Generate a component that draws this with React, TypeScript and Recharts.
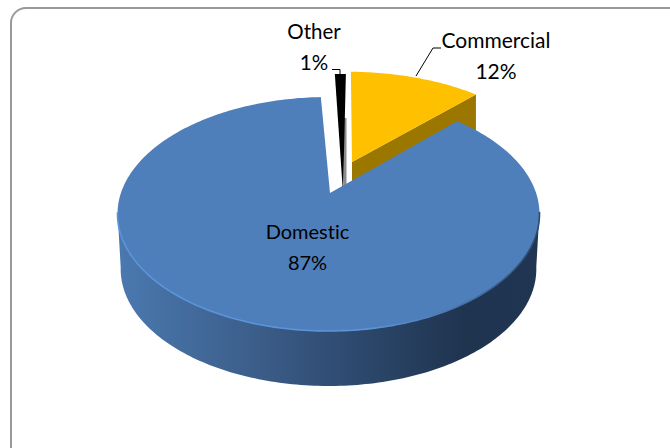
import { Pie, PieChart } from "recharts"

const names = ["Other", "Commercial", "Domestic"]
const shares = [1, 12, 87]
const sliceColors = ["#000000", "#FFC000", "#4F7FBB"]
const wallColors = ["#8c8c8c", "#9C7700", "url(#domesticWall)"]

const data = names.map((name, i) => ({ name, value: shares[i], color: sliceColors[i], wall: wallColors[i] }))

// exploded slices sit apart from the pie and get a small vertical stretch
const explode: Record<string, { dx: number; dy: number; sy: number; tipDx: number }> = {
  Other: { dx: 14, dy: 0, sy: 1.24, tipDx: 0.5 },
  Commercial: { dx: 19, dy: -31, sy: 0.94, tipDx: 4.5 },
  Domestic: { dx: 0, dy: 0, sy: 1, tipDx: 1.5 },
}

const labelSpots: Record<string, { x: number; y: number; size: number }> = {
  Other: { x: 314, y: 39, size: 20.5 },
  Commercial: { x: 496, y: 48, size: 21 },
  Domestic: { x: 307.5, y: 239, size: 20 },
}

const PITCH = 117 / 211 // flattening of the pie disc
const TILT = 0.18 // perspective shift of the disc centre towards the back
const DEPTH = 55
const RAD = Math.PI / 180

// circle angle -> point on the tilted disc
function project(cx: number, cy: number, r: number, deg: number) {
  const u = Math.cos(deg * RAD)
  const v = Math.sin(deg * RAD)
  const k = 1 + TILT * v
  return {
    x: cx + (r * u * Math.sqrt(1 - TILT * TILT)) / k,
    y: cy - r * PITCH * ((v + TILT) / k),
    back: (v + TILT) / k,
  }
}

function toPath(pts: { x: number; y: number }[]) {
  return pts.map((p, i) => `${i ? "L" : "M"}${p.x.toFixed(2)} ${p.y.toFixed(2)}`).join(" ") + " Z"
}

function Slice(props: any) {
  const { cx, cy, outerRadius, startAngle, endAngle, name, payload } = props
  const label = name ?? payload?.name
  const { dx, dy, sy, tipDx } = explode[label]
  const tip = { x: cx + dx + tipDx, y: cy - outerRadius * PITCH * TILT + dy }
  const steps = Math.max(2, Math.round(Math.abs(endAngle - startAngle)))
  const arc = []
  for (let i = 0; i <= steps; i++) {
    const deg = startAngle + ((endAngle - startAngle) * i) / steps
    const p = project(cx, cy, outerRadius, deg)
    arc.push({ x: p.x + dx, y: tip.y + (p.y + dy - tip.y) * sy, back: p.back })
  }

  const top = toPath([tip, ...arc])
  let wall = null
  let rim = null
  if (label === "Domestic") {
    const front = arc.filter((p) => p.back <= 0.02)
    const lower = [...front].reverse().map((p) => ({ x: cx + (p.x - cx) * 0.985, y: p.y + DEPTH }))
    wall = <path d={toPath([...front, ...lower])} fill="url(#domesticWall)" />
    rim = (
      <path
        d={front.map((p, i) => `${i ? "L" : "M"}${p.x.toFixed(2)} ${p.y.toFixed(2)}`).join(" ")}
        fill="none"
        stroke="url(#domesticRim)"
        strokeWidth={1.6}
      />
    )
  } else if (label === "Commercial") {
    const end = arc[arc.length - 1]
    wall = (
      <path
        d={toPath([tip, end, { x: end.x, y: end.y + DEPTH }, { x: tip.x, y: tip.y + DEPTH }])}
        fill={payload.wall}
      />
    )
  } else {
    // Other: thin grey side face just right of the black wedge
    wall = (
      <path
        d={toPath([
          { x: tip.x + 0.5, y: tip.y - 75 },
          { x: tip.x + 3.5, y: tip.y - 75 },
          { x: tip.x + 3.5, y: tip.y },
          { x: tip.x + 0.5, y: tip.y },
        ])}
        fill={payload.wall}
      />
    )
  }

  return (
    <g>
      {wall}
      <path d={top} fill={payload.color} />
      {rim}
    </g>
  )
}

function SliceLabel(props: any) {
  const { name, value } = props
  const spot = labelSpots[name]
  if (!spot) return null
  const textStyle = { fontVariantLigatures: "none" }
  return (
    <g>
      {name === "Commercial" && <path d="M416 76 L433 48 L441 48" fill="none" stroke="#000" strokeWidth={1} />}
      {name === "Other" && <path d="M332 69.5 L340 69.5 L340 74" fill="none" stroke="#000" strokeWidth={1} />}
      <text x={spot.x} y={spot.y} textAnchor="middle" fontFamily="Lato" fontSize={spot.size} fill="#000" style={textStyle}>
        {name}
      </text>
      <text x={spot.x} y={spot.y + 31} textAnchor="middle" fontFamily="Lato" fontSize={spot.size} fill="#000" style={textStyle}>
        {`${value}%`}
      </text>
    </g>
  )
}

export default function App() {
  return (
    <div style={{ position: "absolute", left: 0, top: 0, width: 670, height: 448, overflow: "hidden", background: "#fff" }}>
      {/* chart frame, runs off the right and bottom of the page */}
      <div
        style={{
          position: "absolute",
          left: 10,
          top: 7,
          width: 800,
          height: 600,
          border: "2px solid #999",
          borderRadius: 16,
        }}
      />
      <div style={{ position: "absolute", left: 0, top: 0 }}>
        <PieChart width={670} height={448} margin={{ top: 0, right: 0, bottom: 0, left: 0 }}>
          <defs>
            <linearGradient id="domesticWall" x1="0" y1="0" x2="1" y2="0">
              <stop offset="0%" stopColor="#4A79B0" />
              <stop offset="30%" stopColor="#3D608D" />
              <stop offset="60%" stopColor="#2B4669" />
              <stop offset="82%" stopColor="#1F344F" />
              <stop offset="100%" stopColor="#1F3552" />
            </linearGradient>
            <linearGradient id="domesticRim" x1="0" y1="0" x2="1" y2="0">
              <stop offset="0%" stopColor="#5A94DA" />
              <stop offset="60%" stopColor="#5A94DA" />
              <stop offset="75%" stopColor="#4F7FBB" />
              <stop offset="100%" stopColor="#2C4A70" />
            </linearGradient>
          </defs>
          <Pie
            data={data}
            dataKey="value"
            nameKey="name"
            cx={328.5}
            cy={214}
            innerRadius={0}
            outerRadius={211}
            startAngle={92.5}
            endAngle={-267.5}
            stroke="none"
            shape={Slice}
            label={SliceLabel}
            labelLine={false}
            isAnimationActive={false}
          />
        </PieChart>
      </div>
    </div>
  )
}
